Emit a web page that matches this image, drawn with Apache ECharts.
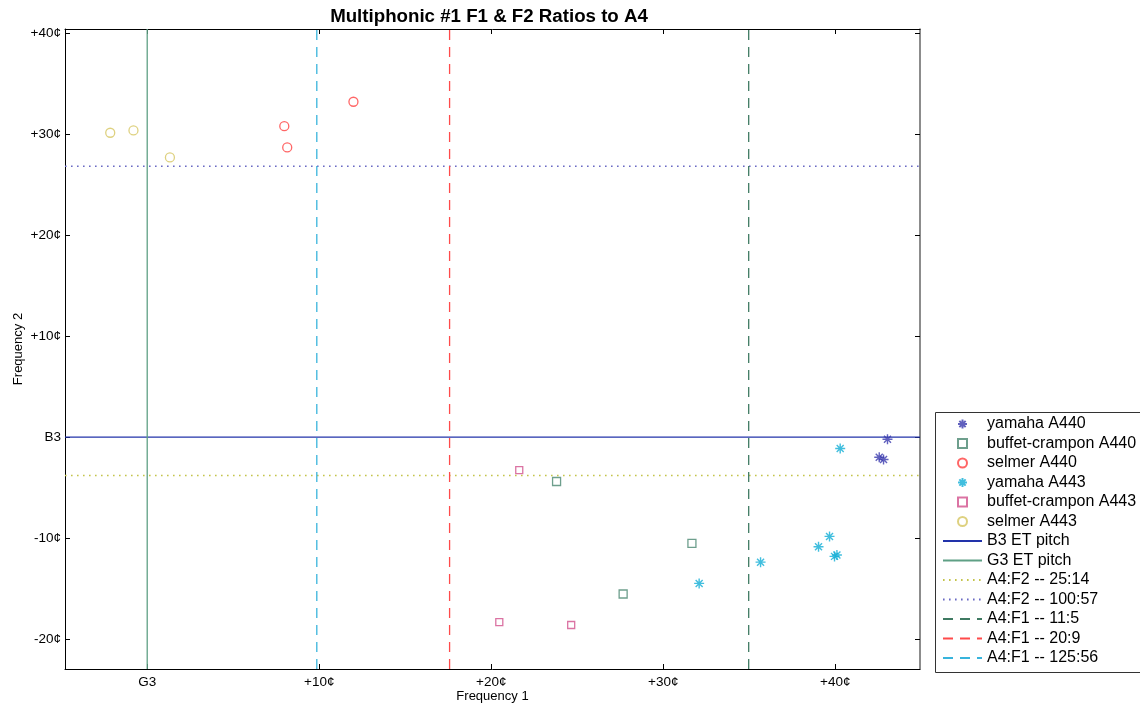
<!DOCTYPE html>
<html>
<head>
<meta charset="utf-8">
<script src="https://cdn.jsdelivr.net/npm/echarts@6/dist/echarts.min.js"></script>
<style>html,body{margin:0;padding:0;background:#fff}#c{width:1140px;height:706px}</style>
</head>
<body>
<div id="c"></div>
<script>
// ---- data (cents relative to G3 for F1, relative to B3 for F2) ----
const yamahaA440 = [[43.04, -0.20], [42.56, -1.98], [42.81, -2.21]];
const buffetA440 = [[23.80, -4.39], [31.67, -10.52], [27.67, -15.54]];
const selmerA440 = [[7.97, 30.82], [8.14, 28.71], [11.99, 33.24]];
const yamahaA443 = [[40.29, -1.12], [35.66, -12.38], [32.09, -14.49], [39.03, -10.86], [39.67, -9.83], [39.96, -11.81], [40.10, -11.68]];
const buffetA443 = [[21.63, -3.27], [20.47, -18.32], [24.65, -18.61]];
const selmerA443 = [[-2.15, 30.17], [-0.80, 30.40], [1.32, 27.72]];

// reference lines (cents)
const hLineNames = ['B3 ET pitch', 'A4:F2 -- 25:14', 'A4:F2 -- 100:57'];
const hLineValues = [0, -3.79, 26.85];
const vLineNames = ['G3 ET pitch', 'A4:F1 -- 11:5', 'A4:F1 -- 20:9', 'A4:F1 -- 125:56'];
const vLineValues = [0, 34.97, 17.58, 9.86];

const xTicks = [0, 10, 20, 30, 40];
const yTicks = [-20, -10, 0, 10, 20, 30, 40];
const xZeroLabel = 'G3';
const yZeroLabel = 'B3';

const XMIN = -4.78, XMAX = 44.93, YMIN = -22.97, YMAX = 40.45;

const fmt = (zero) => (v) => {
  const r = Math.round(v);
  if (r === 0) return zero;
  return (r > 0 ? '+' : '') + r + '¢';
};

const STAR = 'path://M0,-10L0,10M-10,0L10,0M-7,-7L7,7M-7,7L7,-7';
const SQUARE = 'path://M0,0L10,0L10,10L0,10Z';
const FONT = '"Liberation Sans", Arial, Helvetica, sans-serif';

function scatter(name, data, symbol, color, size, bw) {
  return {
    name, type: 'scatter', data, symbol, symbolSize: size, symbolKeepAspect: true,
    itemStyle: { color: 'rgba(255,255,255,0)', borderColor: color, borderWidth: bw },
    emphasis: { disabled: true }, z: 5
  };
}

const lineStyles = {
  'B3 ET pitch':      { color: '#2233aa', type: 'solid', width: 1.2 },
  'G3 ET pitch':      { color: '#5fa085', type: 'solid', width: 1.3 },
  'A4:F2 -- 25:14':   { color: '#c4c44a', type: [1.6, 4.4], width: 1.5 },
  'A4:F2 -- 100:57':  { color: '#6a6ac4', type: [1.6, 4.4], width: 1.5 },
  'A4:F1 -- 11:5':    { color: '#3f7a62', type: [10, 7], width: 1.3 },
  'A4:F1 -- 20:9':    { color: '#ff4a4a', type: [10, 7], width: 1.3 },
  'A4:F1 -- 125:56':  { color: '#38b4dc', type: [10, 7], width: 1.3 }
};

function refLine(name, pts) {
  const ls = lineStyles[name];
  return {
    name, type: 'line', data: pts, symbol: 'none', silent: true,
    lineStyle: ls,
    itemStyle: { color: 'rgba(0,0,0,0)', borderColor: 'rgba(0,0,0,0)', borderWidth: 0 },
    z: 2, animation: false
  };
}

const series = [
  scatter('yamaha A440', yamahaA440, STAR, '#3a3aae', 10, 1.4),
  scatter('buffet-crampon A440', buffetA440, SQUARE, '#4a8770', 8, 1.3),
  scatter('selmer A440', selmerA440, 'circle', '#ff4040', 9, 1.3),
  scatter('yamaha A443', yamahaA443, STAR, '#12aed6', 10, 1.4),
  scatter('buffet-crampon A443', buffetA443, SQUARE, '#d2508c', 7, 1.3),
  scatter('selmer A443', selmerA443, 'circle', '#d6c560', 9, 1.3)
];
// order in legend: B3, G3, 25:14, 100:57, 11:5, 20:9, 125:56
series.push(refLine(hLineNames[0], [[XMIN, hLineValues[0]], [XMAX, hLineValues[0]]]));
series.push(refLine(vLineNames[0], [[vLineValues[0], YMIN], [vLineValues[0], YMAX]]));
series.push(refLine(hLineNames[1], [[XMIN, hLineValues[1]], [XMAX, hLineValues[1]]]));
series.push(refLine(hLineNames[2], [[XMIN, hLineValues[2]], [XMAX, hLineValues[2]]]));
for (let i = 1; i < vLineNames.length; i++) {
  series.push(refLine(vLineNames[i], [[vLineValues[i], YMIN], [vLineValues[i], YMAX]]));
}

const axisCommon = {
  type: 'value',
  axisLine: { show: true, onZero: false, lineStyle: { color: '#000', width: 1 } },
  axisTick: { show: true, inside: true, length: 5, lineStyle: { color: '#000' } },
  splitLine: { show: false }
};

const chart = echarts.init(document.getElementById('c'), null, { renderer: 'canvas' });
chart.setOption({
  animation: false,
  backgroundColor: '#fff',
  textStyle: { fontFamily: FONT },
  title: {
    text: 'Multiphonic #1 F1 & F2 Ratios to A4',
    left: 484, top: 2, textAlign: 'center',
    textStyle: { fontSize: 18.7, fontWeight: 'bold', color: '#000', fontFamily: FONT }
  },
  grid: { left: 65, right: 220, top: 29, bottom: 37, containLabel: false, outerBoundsMode: 'none' },
  xAxis: [
    Object.assign({}, axisCommon, {
      position: 'bottom', min: XMIN, max: XMAX,
      name: 'Frequency 1', nameLocation: 'middle', nameGap: 21, nameMoveOverlap: false,
      nameTextStyle: { fontSize: 13, color: '#000', fontFamily: FONT },
      axisTick: Object.assign({}, axisCommon.axisTick, { customValues: xTicks }),
      axisLabel: { customValues: xTicks, formatter: fmt(xZeroLabel), fontSize: 13.5, color: '#000', margin: 6, fontFamily: FONT }
    }),
    Object.assign({}, axisCommon, {
      position: 'top', min: XMIN, max: XMAX,
      axisTick: Object.assign({}, axisCommon.axisTick, { customValues: xTicks }),
      axisLabel: { show: false }
    })
  ],
  yAxis: [
    Object.assign({}, axisCommon, {
      position: 'left', min: YMIN, max: YMAX,
      name: 'Frequency 2', nameLocation: 'middle', nameGap: 40, nameRotate: 90, nameMoveOverlap: false,
      nameTextStyle: { fontSize: 13, color: '#000', fontFamily: FONT },
      axisTick: Object.assign({}, axisCommon.axisTick, { customValues: yTicks }),
      axisLabel: { customValues: yTicks, formatter: fmt(yZeroLabel), fontSize: 13.5, color: '#000', margin: 4, fontFamily: FONT }
    }),
    Object.assign({}, axisCommon, {
      position: 'right', min: YMIN, max: YMAX,
      axisLine: { show: true, onZero: false, lineStyle: { color: '#666', width: 1.5 } },
      axisTick: Object.assign({}, axisCommon.axisTick, { customValues: yTicks }),
      axisLabel: { show: false }
    })
  ],
  legend: {
    orient: 'vertical', left: 937, top: 411,
    itemWidth: 39, itemHeight: 9, itemGap: 3.5,
    textStyle: { fontSize: 16, color: '#000', fontFamily: FONT },
    selectedMode: false,
    data: series.map(s => s.name)
  },
  graphic: [{
    type: 'rect', left: 933, top: 410, silent: true,
    shape: { width: 205, height: 260 },
    style: { fill: 'none', stroke: '#333', lineWidth: 1 }
  }],
  series
});
</script>
</body>
</html>
